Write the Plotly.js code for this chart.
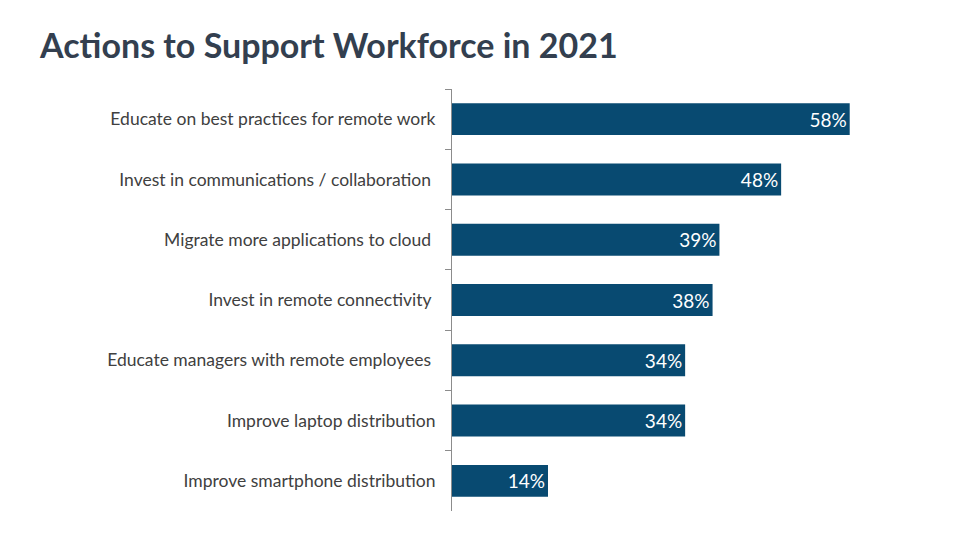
<!DOCTYPE html>
<html>
<head>
<meta charset="utf-8">
<script src="https://cdn.plot.ly/plotly-3.0.1.min.js"></script>
<style>html,body{margin:0;padding:0;background:#fff;}#chart{width:960px;height:540px;}</style>
</head>
<body>
<div id="chart"></div>
<script>
const categories = [
  "Educate on best practices for remote work",
  "Invest in communications / collaboration ",
  "Migrate more applications to cloud ",
  "Invest in remote connectivity ",
  "Educate managers with remote employees ",
  "Improve laptop distribution",
  "Improve smartphone distribution"
];
const values = [58, 48, 39, 38, 34, 34, 14];
const valueLabels = values.map(v => v + "%");

const trace = {
  type: "bar",
  orientation: "h",
  y: categories,
  x: values,
  text: valueLabels,
  textposition: "inside",
  insidetextanchor: "end",
  textfont: {color: "#ffffff", size: 19, family: "Lato, 'Open Sans', sans-serif"},
  marker: {color: "#084A71"},
  width: 0.53,
  hoverinfo: "none",
  cliponaxis: false
};

const layout = {
  width: 960, height: 540,
  margin: {l: 452, r: 28, t: 89, b: 29},
  paper_bgcolor: "#ffffff", plot_bgcolor: "#ffffff",
  showlegend: false,
  title: {
    text: "<b>Actions to Support Workforce in 2021</b>",
    x: 40/960, xref: "container", xanchor: "left",
    y: 1 - 46/540, yref: "container", yanchor: "middle",
    font: {family: "Lato, 'Open Sans', sans-serif", size: 34, color: "#333F4F"}
  },
  xaxis: {range: [0, 70], visible: false, fixedrange: true},
  yaxis: {
    type: "category",
    autorange: "reversed",
    showline: true, linecolor: "#8C8C8C", linewidth: 1,
    ticks: "outside", tickson: "boundaries", ticklen: 6, tickcolor: "#8C8C8C",
    ticklabelstandoff: 12,
    tickfont: {family: "Lato, 'Open Sans', sans-serif", size: 17.5, color: "#404040"},
    showgrid: false, zeroline: false, fixedrange: true
  }
};
Plotly.newPlot("chart", [trace], layout, {displayModeBar: false, staticPlot: true});
</script>
</body>
</html>
